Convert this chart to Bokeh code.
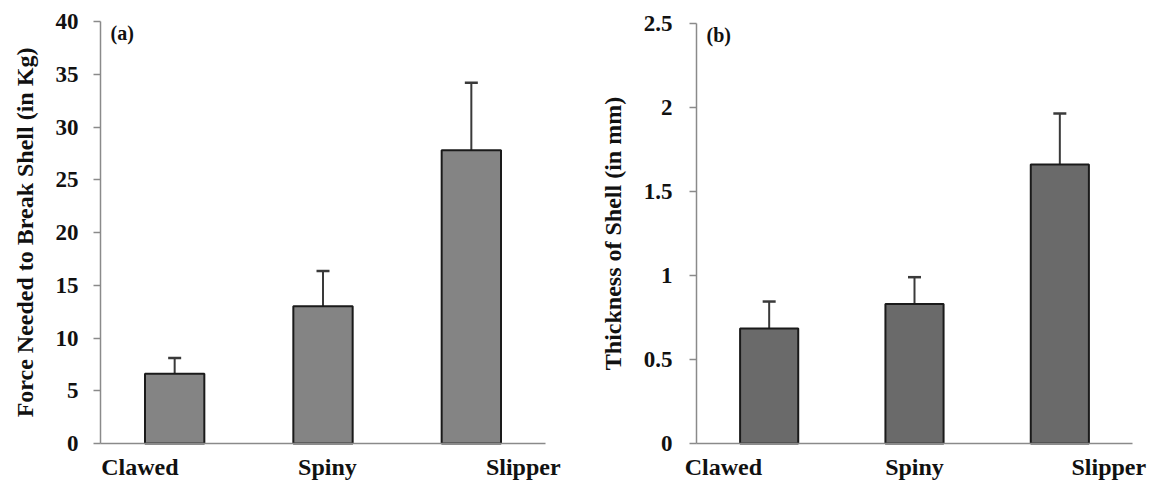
from bokeh.plotting import figure
from bokeh.layouts import row
from bokeh.models import (Range1d, FixedTicker, Whisker, ColumnDataSource, Label, TeeHead,
                          NumeralTickFormatter)
from bokeh.embed import file_html
from bokeh.resources import INLINE

categories = ["Clawed", "Spiny", "Slipper"]
force_mean = [6.6, 13.0, 27.8]
force_err = [1.5, 3.35, 6.4]
thick_mean = [0.685, 0.83, 1.66]
thick_err = [0.16, 0.16, 0.305]
force_ticks = [0, 5, 10, 15, 20, 25, 30, 35, 40]
thick_ticks = [0, 0.5, 1, 1.5, 2, 2.5]
force_label_shift = [-0.234, 0.03, 0.35]
thick_label_shift = [-0.315, 0.0, 0.337]

FONT = "Liberation Serif"
AXIS_GRAY = "#8a8a8a"
H = 482
ZERO_Y = 443  # screen row of the value axis' zero


def panel(means, errs, ticks, ymax, ylabel, tag, fill, shifts, width, frame_w, border_l, border_t, label_standoff):
    n = len(categories)
    xs = [i + 0.5 for i in range(n)]
    src = ColumnDataSource(dict(
        x=xs, top=means,
        upper=[m + e for m, e in zip(means, errs)],
        base=means,
    ))
    # the plotting frame covers the whole figure; axes are drawn at fixed locations
    ux = frame_w / n
    uy = (ZERO_Y - border_t) / ymax
    x_rng = Range1d(-border_l / ux, n + (width - border_l - frame_w) / ux)
    y_rng = Range1d(-(H - ZERO_Y) / uy, ymax + border_t / uy)
    p = figure(width=width, height=H, output_backend="svg", toolbar_location=None,
               x_range=x_rng, y_range=y_rng,
               min_border_left=0, min_border_right=0, min_border_top=0, min_border_bottom=0)
    p.outline_line_color = None
    p.xgrid.grid_line_color = None
    p.ygrid.grid_line_color = None
    p.background_fill_color = "white"
    p.border_fill_color = "white"

    p.vbar(x="x", top="top", width=0.4, bottom=0, source=src,
           fill_color=fill, line_color="#1a1a1a", line_width=2)
    w = Whisker(base="x", upper="upper", lower="base", source=src,
                line_color="#3a3a3a", line_width=2,
                upper_head=TeeHead(size=13, line_color="#3a3a3a", line_width=2.5),
                lower_head=None)
    p.add_layout(w)

    # y axis
    ya = p.yaxis[0]
    ya.fixed_location = 0
    ya.bounds = (0, ymax)
    ya.ticker = FixedTicker(ticks=ticks)
    ya.formatter = NumeralTickFormatter(format="0.[0]")
    ya.axis_line_color = AXIS_GRAY
    ya.axis_line_width = 1.5
    ya.major_tick_line_color = AXIS_GRAY
    ya.major_tick_line_width = 1.5
    ya.major_tick_in = 0
    ya.major_tick_out = 7
    ya.minor_tick_line_color = None
    ya.major_label_text_font = FONT
    ya.major_label_text_font_style = "bold"
    ya.major_label_text_font_size = "23px"
    ya.major_label_text_color = "#111111"
    ya.major_label_standoff = label_standoff
    ya.axis_label = ylabel
    ya.axis_label_text_font = FONT
    ya.axis_label_text_font_style = "bold"
    ya.axis_label_text_font_size = "24px"
    ya.axis_label_text_color = "#111111"
    ya.axis_label_standoff = 15

    # x axis drawn at zero, category names as its labels
    xa = p.xaxis[0]
    xa.fixed_location = 0
    xa.bounds = (0, n)
    pos = [round(x + s, 3) for x, s in zip(xs, shifts)]
    xa.ticker = FixedTicker(ticks=pos)
    xa.major_label_overrides = {t: c for t, c in zip(pos, categories)}
    xa.axis_line_color = AXIS_GRAY
    xa.axis_line_width = 1.5
    xa.major_tick_line_color = None
    xa.major_tick_in = 0
    xa.major_tick_out = 0
    xa.minor_tick_line_color = None
    xa.major_label_text_font = FONT
    xa.major_label_text_font_style = "bold"
    xa.major_label_text_font_size = "24px"
    xa.major_label_text_color = "#111111"
    xa.major_label_standoff = 10

    p.add_layout(Label(x=0, y=ymax, x_offset=10, text=tag, text_baseline="top",
                       text_font=FONT, text_font_style="bold", text_font_size="20px",
                       text_color="#111111"))
    return p


p1 = panel(force_mean, force_err, force_ticks, 40, "Force Needed to Break Shell (in Kg)", "(a)",
           "#848484", force_label_shift, 580, 445, 100, 21, 15)
p2 = panel(thick_mean, thick_err, thick_ticks, 2.5, "Thickness of Shell (in mm)", "(b)",
           "#6a6a6a", thick_label_shift, 576, 436, 116, 23, 17)

layout = row(p1, p2)
open("out.html", "w").write(file_html(layout, INLINE))
